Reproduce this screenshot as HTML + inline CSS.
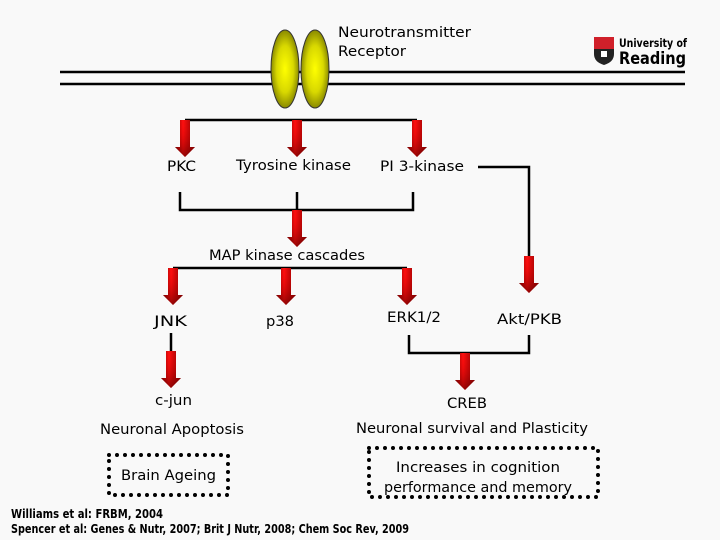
<!DOCTYPE html>
<html><head><meta charset="utf-8"><style>
html,body{margin:0;padding:0;background:#f9f9f9}
svg{display:block}
text{font-family:"DejaVu Sans","Liberation Sans",sans-serif;fill:#000}
</style></head><body>
<svg width="720" height="540" viewBox="0 0 720 540" xmlns="http://www.w3.org/2000/svg">
<defs>
<linearGradient id="rg" x1="0" y1="0" x2="1" y2="0">
<stop offset="0" stop-color="#7a0000"/><stop offset="0.4" stop-color="#ff1010"/><stop offset="1" stop-color="#800000"/>
</linearGradient>
<linearGradient id="rgv" x1="0" y1="0" x2="0" y2="1">
<stop offset="0" stop-color="#ff0000" stop-opacity="0"/><stop offset="1" stop-color="#500000" stop-opacity="0.6"/>
</linearGradient>
<radialGradient id="yg" cx="0.5" cy="0.5" r="0.5">
<stop offset="0" stop-color="#ffff00"/><stop offset="0.6" stop-color="#d8d800"/><stop offset="1" stop-color="#8a8a00"/>
</radialGradient>
<g id="arr"><path d="M-5,0 H5 V27 H10 L0,37 L-10,27 H-5 Z" fill="url(#rg)"/><path d="M-5,0 H5 V27 H10 L0,37 L-10,27 H-5 Z" fill="url(#rgv)"/></g>
</defs>
<line x1="60" y1="72" x2="685" y2="72" stroke="#000" stroke-width="2.5"/>
<line x1="60" y1="84" x2="685" y2="84" stroke="#000" stroke-width="2.5"/>
<ellipse cx="285" cy="69" rx="14" ry="39" fill="url(#yg)" stroke="#333" stroke-width="1"/>
<ellipse cx="315" cy="69" rx="14" ry="39" fill="url(#yg)" stroke="#333" stroke-width="1"/>
<text x="338" y="37" font-size="14.5" textLength="133" lengthAdjust="spacingAndGlyphs">Neurotransmitter</text>
<text x="338" y="56" font-size="14.5" textLength="68" lengthAdjust="spacingAndGlyphs">Receptor</text>
<rect x="594" y="37" width="20" height="12" fill="#d0202a"/>
<path d="M594,49 H614 V54 Q614,62 604,65 Q594,62 594,54 Z" fill="#222"/>
<rect x="601" y="51" width="6" height="6" fill="#fff"/>
<text x="619" y="47" font-size="11.5" font-weight="bold" font-family="Liberation Sans" textLength="68" lengthAdjust="spacingAndGlyphs">University of</text>
<text x="619" y="64" font-size="17" font-weight="bold" font-family="Liberation Sans" textLength="67" lengthAdjust="spacingAndGlyphs">Reading</text>
<g stroke="#000" stroke-width="2.5" fill="none">
<polyline points="185,120 417,120"/>
<polyline points="180,192 180,210 413,210 413,192"/>
<line x1="297" y1="192" x2="297" y2="210"/>
<polyline points="478,167 529,167 529,257"/>
<line x1="173" y1="268" x2="407" y2="268"/>
<line x1="171" y1="333" x2="171" y2="352"/>
<polyline points="409,335 409,353 529,353 529,335"/>
</g>
<use href="#arr" x="185" y="120"/>
<use href="#arr" x="297" y="120"/>
<use href="#arr" x="417" y="120"/>
<use href="#arr" x="297" y="210"/>
<use href="#arr" x="529" y="256"/>
<use href="#arr" x="173" y="268"/>
<use href="#arr" x="286" y="268"/>
<use href="#arr" x="407" y="268"/>
<use href="#arr" x="171" y="351"/>
<use href="#arr" x="465" y="353"/>
<g font-size="14.5">
<text x="167" y="171" textLength="29" lengthAdjust="spacingAndGlyphs">PKC</text>
<text x="236" y="170" textLength="115" lengthAdjust="spacingAndGlyphs">Tyrosine kinase</text>
<text x="380" y="171" textLength="84" lengthAdjust="spacingAndGlyphs">PI 3-kinase</text>
<text x="209" y="260" textLength="156" lengthAdjust="spacingAndGlyphs">MAP kinase cascades</text>
<text x="154" y="326" textLength="33" lengthAdjust="spacingAndGlyphs">JNK</text>
<text x="266" y="326" textLength="28" lengthAdjust="spacingAndGlyphs">p38</text>
<text x="387" y="322" textLength="54" lengthAdjust="spacingAndGlyphs">ERK1/2</text>
<text x="497" y="324" textLength="65" lengthAdjust="spacingAndGlyphs">Akt/PKB</text>
<text x="155" y="405" textLength="37" lengthAdjust="spacingAndGlyphs">c-jun</text>
<text x="447" y="408" textLength="40" lengthAdjust="spacingAndGlyphs">CREB</text>
<text x="100" y="434" textLength="144" lengthAdjust="spacingAndGlyphs">Neuronal Apoptosis</text>
<text x="356" y="433" textLength="232" lengthAdjust="spacingAndGlyphs">Neuronal survival and Plasticity</text>
<text x="121" y="480" textLength="95" lengthAdjust="spacingAndGlyphs">Brain Ageing</text>
<text x="396" y="472" textLength="164" lengthAdjust="spacingAndGlyphs">Increases in cognition</text>
<text x="384" y="492" textLength="188" lengthAdjust="spacingAndGlyphs">performance and memory</text>
</g>
<g fill="none" stroke="#000" stroke-width="4" stroke-linecap="round" stroke-dasharray="0 8">
<rect x="109" y="455" width="119" height="40"/>
<rect x="369" y="448" width="229" height="49"/>
</g>
<g font-size="12" font-weight="bold" font-family="DejaVu Sans Condensed, DejaVu Sans, sans-serif">
<text x="11" y="518" textLength="152" lengthAdjust="spacingAndGlyphs">Williams et al: FRBM, 2004</text>
<text x="11" y="533" textLength="398" lengthAdjust="spacingAndGlyphs">Spencer et al:  Genes &amp; Nutr, 2007;  Brit J Nutr, 2008;  Chem Soc Rev, 2009</text>
</g>
</svg>
</body></html>
